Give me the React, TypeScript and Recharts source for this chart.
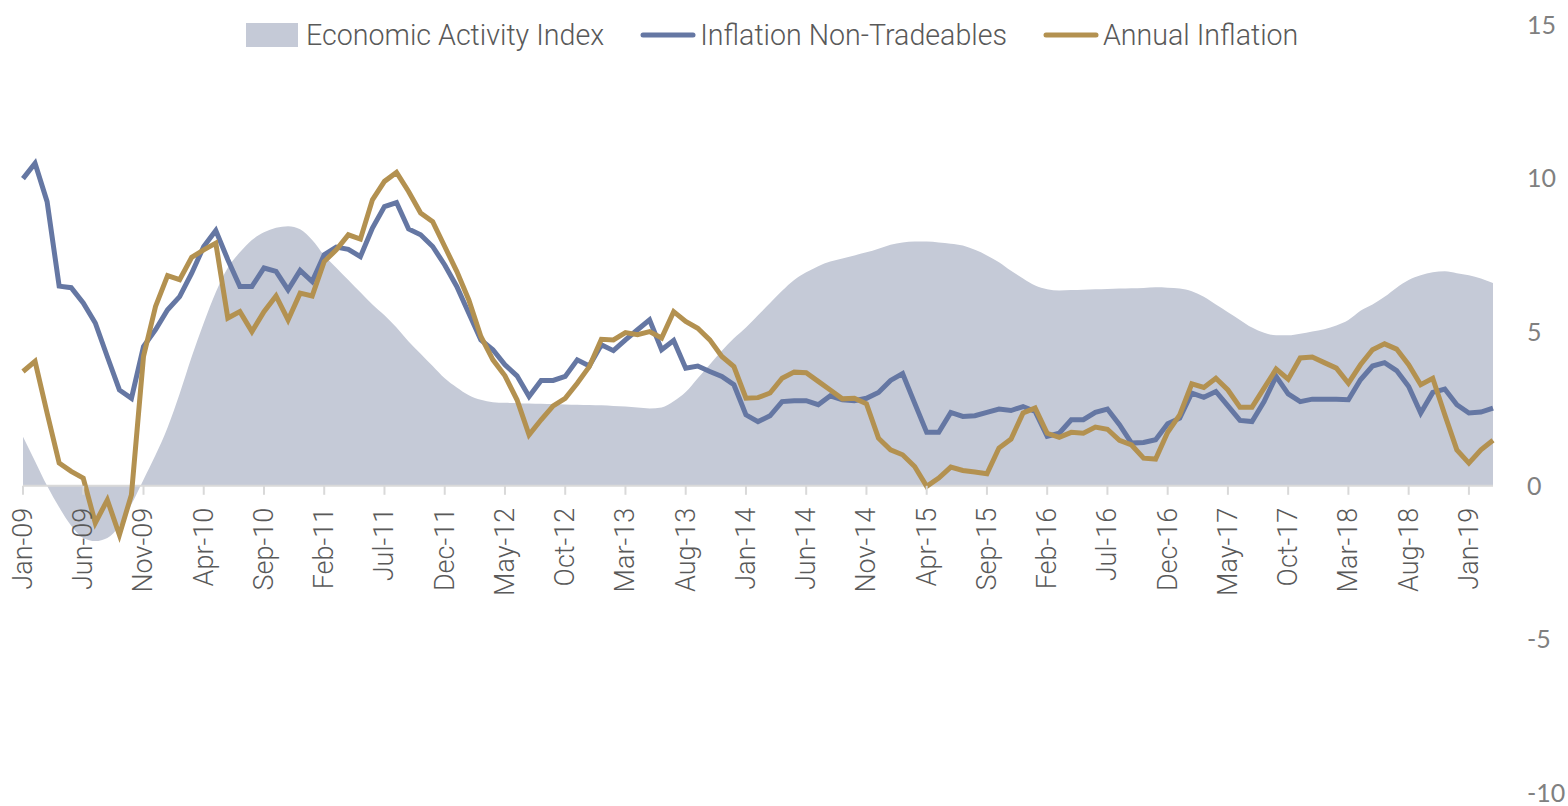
import React from "react";
import {
  ComposedChart,
  Area,
  Line,
  XAxis,
  YAxis,
  ReferenceLine,
  Legend,
} from "recharts";

const MONTHS = ["Jan", "Feb", "Mar", "Apr", "May", "Jun", "Jul", "Aug", "Sep", "Oct", "Nov", "Dec"];
const YEARS = ["09", "10", "11", "12", "13", "14", "15", "16", "17", "18", "19"];

const activityIndex = [
  1.6, 0.8, 0.0, -0.7, -1.3, -1.7, -1.8, -1.7, -1.3, -0.6, 0.2, 1.0,
  1.9, 3.0, 4.2, 5.3, 6.3, 7.1, 7.6, 8.0, 8.25, 8.4, 8.45, 8.35,
  8.0, 7.5, 7.1, 6.7, 6.3, 5.9, 5.55, 5.15, 4.7, 4.3, 3.9, 3.5,
  3.2, 2.95, 2.8, 2.72, 2.7, 2.69, 2.68, 2.67, 2.66, 2.65, 2.64, 2.63,
  2.62, 2.6, 2.58, 2.55, 2.52, 2.55, 2.75, 3.05, 3.5, 3.95, 4.4, 4.8,
  5.15, 5.55, 5.95, 6.35, 6.7, 6.95, 7.15, 7.3, 7.4, 7.5, 7.6, 7.72,
  7.85, 7.92, 7.95, 7.95, 7.92, 7.88, 7.82, 7.68, 7.5, 7.28, 7.0, 6.75,
  6.52, 6.4, 6.36, 6.37, 6.38, 6.4, 6.41, 6.42, 6.43, 6.44, 6.46, 6.45,
  6.42, 6.33, 6.15, 5.9, 5.65, 5.4, 5.15, 4.98, 4.9, 4.9, 4.95, 5.02,
  5.1, 5.22, 5.4, 5.7, 5.9, 6.15, 6.45, 6.7, 6.85, 6.95, 6.98, 6.92,
  6.85, 6.75, 6.6,
];

const nonTradeables = [
  10.0, 10.5, 9.25, 6.5, 6.45, 5.95, 5.3, 4.2, 3.12, 2.85, 4.53, 5.08,
  5.73, 6.16, 6.92, 7.79, 8.31, 7.36, 6.49, 6.49, 7.09, 6.98, 6.38, 7.01,
  6.65, 7.52, 7.77, 7.7, 7.46, 8.39, 9.09, 9.22, 8.36, 8.17, 7.79, 7.19,
  6.49, 5.62, 4.75, 4.43, 3.94, 3.58, 2.91, 3.43, 3.43, 3.56, 4.1, 3.9,
  4.59, 4.4, 4.75, 5.08, 5.4, 4.43, 4.73, 3.83, 3.9, 3.72, 3.56, 3.29,
  2.31, 2.09, 2.28, 2.74, 2.77, 2.77, 2.64, 2.93, 2.8, 2.77, 2.85, 3.04,
  3.43, 3.65, 2.69, 1.74, 1.74, 2.39, 2.26, 2.28, 2.39, 2.5, 2.45, 2.58,
  2.42, 1.61, 1.71, 2.15, 2.15, 2.39, 2.5, 1.99, 1.39, 1.41, 1.5, 2.02,
  2.2, 3.02, 2.88, 3.07, 2.6, 2.13, 2.09, 2.74, 3.56, 2.99, 2.74, 2.82,
  2.82, 2.82, 2.8, 3.45, 3.9, 4.01, 3.75, 3.23, 2.37, 3.04, 3.15, 2.64,
  2.37, 2.4, 2.53,
];

const annualInflation = [
  3.72, 4.05, 2.37, 0.74, 0.47, 0.25, -1.21, -0.46, -1.6, -0.29, 4.21, 5.84,
  6.84, 6.71, 7.44, 7.68, 7.9, 5.46, 5.67, 5.02, 5.67, 6.18, 5.4, 6.27,
  6.18, 7.3, 7.68, 8.17, 8.03, 9.31, 9.91, 10.2, 9.58, 8.88, 8.6, 7.79,
  6.98, 6.05, 4.86, 4.1, 3.58, 2.8, 1.66, 2.15, 2.6, 2.85, 3.34, 3.88,
  4.77, 4.75, 4.99, 4.92, 5.02, 4.81, 5.67, 5.35, 5.13, 4.75, 4.21, 3.88,
  2.85, 2.87, 3.02, 3.5, 3.7, 3.68, 3.4, 3.12, 2.83, 2.85, 2.67, 1.55,
  1.17, 1.01, 0.63, -0.02, 0.25, 0.61, 0.5, 0.45, 0.39, 1.23, 1.52, 2.37,
  2.53, 1.71, 1.58, 1.74, 1.71, 1.91, 1.84, 1.48, 1.33, 0.9, 0.87, 1.74,
  2.31, 3.32, 3.2, 3.5, 3.12, 2.56, 2.56, 3.18, 3.8, 3.47, 4.16, 4.19,
  4.01, 3.83, 3.34, 3.94, 4.43, 4.62, 4.45, 3.94, 3.29, 3.5, 2.31, 1.17,
  0.74, 1.17, 1.48,
];

const Y_TICKS = [-10, -5, 0, 5, 10, 15];

const months = YEARS.flatMap((y) => MONTHS.map((m) => `${m}-${y}`));

const data = activityIndex.map((v, i) => ({
  month: months[i],
  activity: v,
  nonTradeables: nonTradeables[i],
  annual: annualInflation[i],
}));

const W = 1568;
const H = 806;
const MARGIN = { top: 25, right: 0, bottom: 12, left: 23 };
const X_AXIS_H = 1;
const Y_MIN = -10;
const Y_MAX = 15;

const AREA_COLOR = "#c5cad7";
const BLUE = "#6577a3";
const GOLD = "#b39150";
const AXIS_GREY = "#d9d9d9";
const FONT = "Roboto, 'Liberation Sans', sans-serif";

// distance from the bottom of the plot up to the zero line
const plotHeight = H - MARGIN.top - MARGIN.bottom - X_AXIS_H;
const zeroLift = (plotHeight * (0 - Y_MIN)) / (Y_MAX - Y_MIN);

const MonthTick = (props: any) => {
  const { x, y, payload } = props;
  const y0 = y - zeroLift;
  return (
    <g>
      <line x1={x} x2={x} y1={y0} y2={y0 + 9} stroke={AXIS_GREY} strokeWidth={2} />
      <text
        x={x}
        y={y0 + 22}
        transform={`rotate(-90, ${x}, ${y0 + 22})`}
        textAnchor="end"
        dominantBaseline="central"
        fill="#595959"
        fontFamily={FONT}
        fontWeight={300}
        fontSize={27}
      >
        {payload.value}
      </text>
    </g>
  );
};

const legendItems = [
  { label: "Economic Activity Index", color: AREA_COLOR, kind: "area" },
  { label: "Inflation Non-Tradeables", color: BLUE, kind: "line" },
  { label: "Annual Inflation", color: GOLD, kind: "line" },
];

const LegendContent = () => (
  <div
    style={{
      display: "flex",
      alignItems: "center",
      fontFamily: FONT,
      fontWeight: 300,
      fontSize: 28.6,
      color: "#595959",
      whiteSpace: "nowrap",
    }}
  >
    {legendItems.map((it) => (
      <div key={it.label} style={{ display: "flex", alignItems: "center", marginRight: 36 }}>
        <svg width={56} height={26} style={{ marginRight: 4 }}>
          {it.kind === "area" ? (
            <rect x={0} y={1} width={52} height={24} fill={it.color} />
          ) : (
            <line x1={3} x2={53} y1={13} y2={13} stroke={it.color} strokeWidth={5} strokeLinecap="round" />
          )}
        </svg>
        <span>{it.label}</span>
      </div>
    ))}
  </div>
);

export default function App() {
  return (
    <div style={{ position: "absolute", left: 0, top: 0, width: W, height: H, background: "#fff" }}>
      <ComposedChart width={W} height={H} data={data} margin={MARGIN}>
        <XAxis
          dataKey="month"
          scale="point"
          interval={4}
          height={X_AXIS_H}
          axisLine={false}
          tickLine={false}
          tickSize={0}
          tickMargin={0}
          tick={<MonthTick />}
        />
        <YAxis
          orientation="right"
          domain={[Y_MIN, Y_MAX]}
          ticks={Y_TICKS}
          interval={0}
          width={75}
          axisLine={false}
          tickLine={false}
          tickSize={0}
          tickMargin={34}
          tick={{ fill: "#808080", fontSize: 25, fontFamily: "Lato, 'Open Sans', sans-serif", textAnchor: "start" }}
        />
        <Legend
          verticalAlign="middle"
          align="center"
          layout="horizontal"
          content={<LegendContent />}
          wrapperStyle={{ top: 18, left: 246, width: 1200, height: 34 }}
        />
        <Area
          dataKey="activity"
          type="monotone"
          fill={AREA_COLOR}
          fillOpacity={1}
          stroke="none"
          isAnimationActive={false}
        />
        <ReferenceLine y={0} stroke={AXIS_GREY} strokeWidth={2} />
        <Line
          dataKey="nonTradeables"
          type="linear"
          stroke={BLUE}
          strokeWidth={5}
          dot={false}
          isAnimationActive={false}
        />
        <Line
          dataKey="annual"
          type="linear"
          stroke={GOLD}
          strokeWidth={5}
          dot={false}
          isAnimationActive={false}
        />
      </ComposedChart>
    </div>
  );
}
